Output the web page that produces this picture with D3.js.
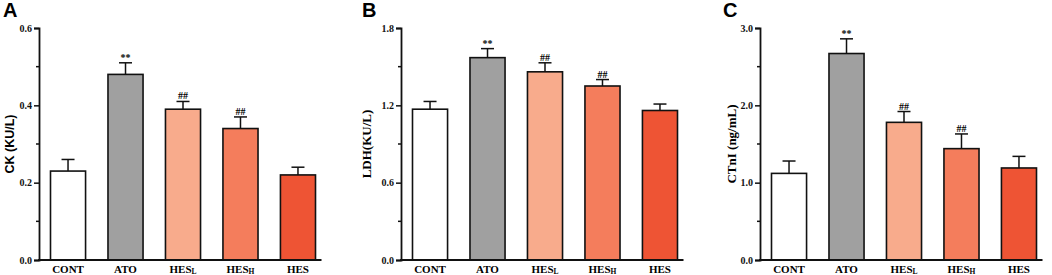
<!DOCTYPE html>
<html>
<head>
<meta charset="utf-8">
<script src="https://cdn.jsdelivr.net/npm/d3@7"></script>
<style>
  body { margin: 0; background: #fff; }
  svg { display: block; }
  .tick-lbl { font-family: "Liberation Serif", serif; font-weight: bold; font-size: 10px; }
  .cat-lbl { font-family: "Liberation Serif", serif; font-weight: bold; font-size: 11px; }
  .sig { font-family: "Liberation Serif", serif; font-weight: bold; font-size: 10px; }
  .panel { font-family: "Liberation Sans", Arial, sans-serif; font-weight: bold; font-size: 20px; }
</style>
</head>
<body>
<svg width="1052" height="275"></svg>
<script>
// groups and colours
const groups = ["CONT", "ATO", "HESL", "HESH", "HES"];
const colors = ["#ffffff", "#a0a0a0", "#f8ab8c", "#f47d5c", "#ee5434"];

// CK (KU/L)
const ckMean = [0.23, 0.48, 0.39, 0.34, 0.22];
const ckErr  = [0.03, 0.03, 0.02, 0.03, 0.02];
const ckSig  = ["", "**", "##", "##", ""];

// LDH (KU/L)
const ldhMean = [1.17, 1.57, 1.46, 1.35, 1.16];
const ldhErr  = [0.06, 0.07, 0.07, 0.05, 0.05];
const ldhSig  = ["", "**", "##", "##", ""];

// CTnI (ng/mL)
const ctniMean = [1.12, 2.67, 1.78, 1.44, 1.19];
const ctniErr  = [0.16, 0.19, 0.14, 0.19, 0.15];
const ctniSig  = ["", "**", "##", "##", ""];

const svg = d3.select("svg");

const panels = [
  { letter: "A", left: 39, yMax: 0.6, major: [0, 0.2, 0.4, 0.6], minor: [0.1, 0.3, 0.5],
    mean: ckMean, err: ckErr, sig: ckSig, title: "CK (KU/L)", titleX: 10, sans: true, letterX: 3 },
  { letter: "B", left: 401, yMax: 1.8, major: [0, 0.6, 1.2, 1.8], minor: [0.3, 0.9, 1.5],
    mean: ldhMean, err: ldhErr, sig: ldhSig, title: "LDH(KU/L)", titleX: 366, sans: false, letterX: 362 },
  { letter: "C", left: 760, yMax: 3.0, major: [0, 1.0, 2.0, 3.0], minor: [0.5, 1.5, 2.5],
    mean: ctniMean, err: ctniErr, sig: ctniSig, title: "CTnI (ng/mL)", titleX: 731, sans: false, letterX: 723 }
];

const plotTop = 28, plotBottom = 260;
const step = 57.6;

panels.forEach(p => {
  const g = svg.append("g");

  const y = d3.scaleLinear().domain([0, p.yMax]).range([plotBottom, plotTop]);
  const x = d3.scaleBand()
    .domain(groups)
    .range([p.left, p.left + step * 5])
    .paddingInner(0.39)
    .paddingOuter(0.2);

  // bars
  g.selectAll("rect.bar")
    .data(groups)
    .join("rect")
    .attr("x", d => x(d))
    .attr("width", x.bandwidth())
    .attr("y", (d, i) => y(p.mean[i]))
    .attr("height", (d, i) => y(0) - y(p.mean[i]))
    .attr("fill", (d, i) => colors[i])
    .attr("stroke", "#111")
    .attr("stroke-width", 1.6);

  // error bars
  groups.forEach((d, i) => {
    const cx = x(d) + x.bandwidth() / 2;
    const yt = y(p.mean[i] + p.err[i]);
    g.append("line")
      .attr("x1", cx).attr("x2", cx)
      .attr("y1", y(p.mean[i])).attr("y2", yt)
      .attr("stroke", "#111").attr("stroke-width", 1.5);
    g.append("line")
      .attr("x1", cx - 6.5).attr("x2", cx + 6.5)
      .attr("y1", yt).attr("y2", yt)
      .attr("stroke", "#111").attr("stroke-width", 1.5);
    if (p.sig[i]) {
      g.append("text")
        .attr("class", "sig")
        .attr("x", cx)
        .attr("y", yt - 2)
        .attr("text-anchor", "middle")
        .text(p.sig[i]);
    }
  });

  // y axis
  const yAxis = d3.axisLeft(y)
    .tickValues(p.major)
    .tickSize(5)
    .tickFormat(d3.format(".1f"));
  const ya = g.append("g")
    .attr("transform", `translate(${p.left},0)`)
    .call(yAxis);
  ya.select(".domain").attr("stroke-width", 1.8).attr("stroke", "#111");
  ya.selectAll(".tick line").attr("stroke-width", 1.5).attr("stroke", "#111");
  ya.selectAll(".tick text").attr("class", "tick-lbl").attr("x", -7).attr("fill", "#111");

  g.selectAll("line.minor")
    .data(p.minor)
    .join("line")
    .attr("x1", p.left - 3).attr("x2", p.left)
    .attr("y1", d => y(d)).attr("y2", d => y(d))
    .attr("stroke", "#111").attr("stroke-width", 1.5);

  // x axis line
  const xEnd = x(groups[4]) + x.bandwidth() + 6;
  g.append("line")
    .attr("x1", p.left - 1).attr("x2", xEnd)
    .attr("y1", plotBottom).attr("y2", plotBottom)
    .attr("stroke", "#111").attr("stroke-width", 1.8);

  // category labels with subscripts
  groups.forEach(d => {
    const t = g.append("text")
      .attr("class", "cat-lbl")
      .attr("x", x(d) + x.bandwidth() / 2)
      .attr("y", 273)
      .attr("text-anchor", "middle");
    if (d === "HESL" || d === "HESH") {
      t.append("tspan").text("HES");
      t.append("tspan").attr("font-size", "7.5px").attr("dy", 0.5).text(d.slice(3));
    } else {
      t.text(d);
    }
  });

  // y title
  g.append("text")
    .attr("transform", `translate(${p.titleX},${(plotTop + plotBottom) / 2}) rotate(-90)`)
    .attr("dy", "0.35em")
    .attr("text-anchor", "middle")
    .style("font-family", p.sans ? "'Liberation Sans', Arial, sans-serif" : "'Liberation Serif', serif")
    .style("font-weight", "bold")
    .style("font-size", p.sans ? "12.5px" : "13px")
    .text(p.title);

  // panel letter
  svg.append("text")
    .attr("class", "panel")
    .attr("x", p.letterX)
    .attr("y", 17)
    .text(p.letter);
});
</script>
</body>
</html>
